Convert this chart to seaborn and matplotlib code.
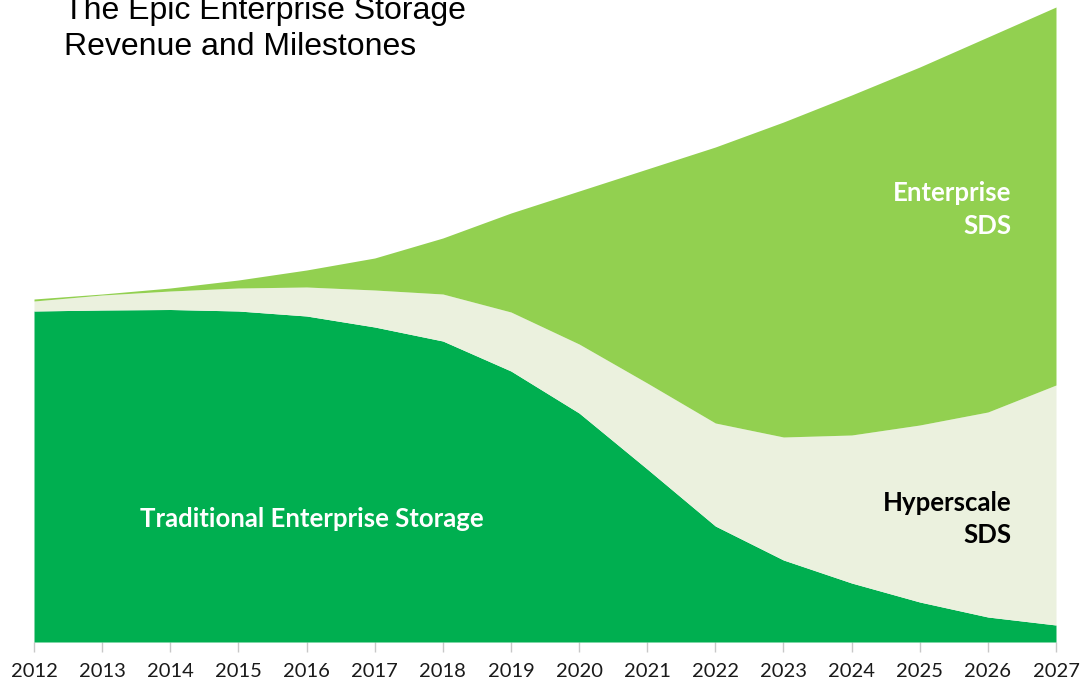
import matplotlib
matplotlib.use("Agg")
import matplotlib.pyplot as plt
import seaborn as sns
import numpy as np

years = [2012, 2013, 2014, 2015, 2016, 2017, 2018, 2019, 2020, 2021, 2022, 2023, 2024, 2025, 2026, 2027]
traditional = [331, 332, 332.5, 331, 326, 315, 301, 271, 229, 173, 116, 82, 59, 40, 25, 17]
hyperscale = [10, 15, 18.5, 23, 29, 37, 47, 59, 69, 86, 103, 123, 148, 177, 205, 240]
enterprise = [2, 1, 3, 8, 17, 32, 56, 99, 153, 214, 276, 315, 340, 358, 375, 378]
tick_labels = [str(y) for y in years]

c_trad = "#00AF50"
c_hyper = "#EBF1DE"
c_ent = "#92D050"

sns.set_theme(style="white")
plt.rcParams['font.family'] = ['Liberation Sans', 'DejaVu Sans']

fig = plt.figure(figsize=(10.81, 6.84), dpi=100)
ax = fig.add_axes([34 / 1081, 42 / 684, 1022 / 1081, 642 / 684])

ax.stackplot(years, traditional, hyperscale, enterprise,
             colors=[c_trad, c_hyper, c_ent], linewidth=0, antialiased=True)

ax.set_xlim(2012, 2027)
ax.set_ylim(0, 642)
for s in ax.spines.values():
    s.set_visible(False)
ax.set_yticks([])
ax.set_xticks(years)
ax.set_xticklabels(tick_labels, family=['Lato', 'DejaVu Sans'], fontsize=14.5, color="#1a1a1a")
ax.tick_params(axis='x', bottom=True, length=7, width=1, color="#c8c8c8", pad=8)
ax.set_facecolor("white")

lbl_font = ['Lato', 'DejaVu Sans']
fs = 18.5
ax.text(2026.34, 449, "Enterprise", ha='right', va='center', fontsize=fs, fontweight='bold', color='white', family=lbl_font)
ax.text(2026.34, 416, "SDS", ha='right', va='center', fontsize=fs, fontweight='bold', color='white', family=lbl_font)
ax.text(2026.34, 139, "Hyperscale", ha='right', va='center', fontsize=fs, fontweight='bold', color='black', family=lbl_font)
ax.text(2026.34, 107, "SDS", ha='right', va='center', fontsize=fs, fontweight='bold', color='black', family=lbl_font)
ax.text(2013.556, 123, "Traditional Enterprise Storage", ha='left', va='center', fontsize=fs, fontweight='bold', color='white', family=lbl_font)

fig.text(64 / 1081, 1 - 19 / 684, "The Epic Enterprise Storage", ha='left', va='baseline', fontsize=23, color='black')
fig.text(64 / 1081, 1 - 55 / 684, "Revenue and Milestones", ha='left', va='baseline', fontsize=23, color='black')

fig.savefig("out.png", dpi=100, facecolor="white")
